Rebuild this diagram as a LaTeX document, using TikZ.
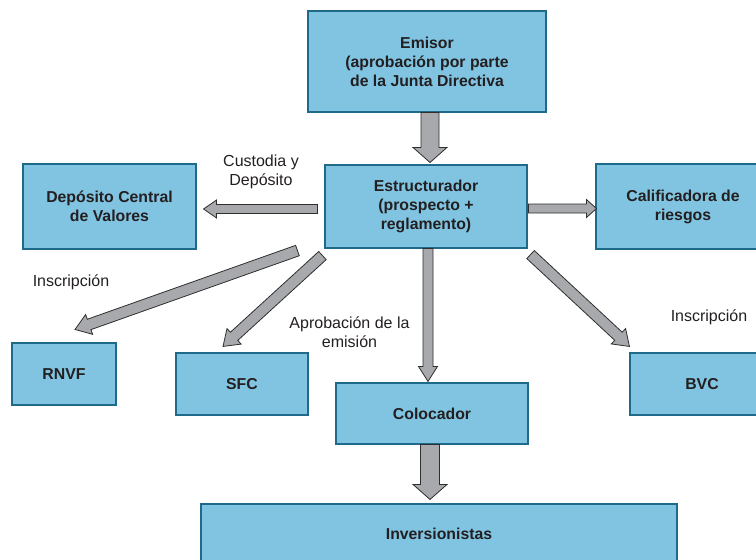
\documentclass[tikz,border=0pt]{standalone}
\usepackage{fontspec}
\setmainfont{Liberation Sans}
\usetikzlibrary{calc}
\definecolor{boxfill}{HTML}{80C4E2}
\definecolor{boxline}{HTML}{1F6A8A}
\definecolor{arrfill}{HTML}{A7A9AC}
\definecolor{arrline}{HTML}{2E2E2E}
\definecolor{txt}{HTML}{231F20}
\tikzset{
  box/.style={draw=boxline, fill=boxfill, line width=1.1pt, text=txt,
    font=\bfseries\fontsize{15.8}{19}\selectfont, align=center, inner sep=0pt},
  lbl/.style={text=txt, font=\fontsize{16}{19}\selectfont, align=center, inner sep=0pt},
  fat/.style={fill=arrfill, draw=arrline, line width=0.8pt, line join=miter}
}
% tail, tip, shaft half width, head half width, head length
\newcommand{\fatarrow}[5]{%
  \coordinate (hb) at ($(#2)!#5!(#1)$);
  \filldraw[fat] ($(#1)!#3!90:(#2)$) -- ($(hb)!#3!90:(#2)$) -- ($(hb)!#4!90:(#2)$)
    -- (#2) -- ($(hb)!#4!-90:(#2)$) -- ($(hb)!#3!-90:(#2)$) -- ($(#1)!#3!-90:(#2)$) -- cycle;}
\begin{document}
\begin{tikzpicture}[x=1pt,y=-1pt]
\useasboundingbox (0,0) rectangle (756,560);
\node[box, minimum width=238pt, minimum height=101pt] (emisor) at (427,61.5)
  {Emisor\\(aprobación por parte\\de la Junta Directiva};
\node[box, minimum width=202pt, minimum height=83pt] (estr) at (426,206.5)
  {Estructurador\\(prospecto +\\reglamento)};
\node[box, minimum width=173pt, minimum height=85pt] (dcv) at (109.5,206.5)
  {Depósito Central\\de Valores};
\node[box, minimum width=174pt, minimum height=85pt] (calif) at (683,206.5)
  {Calificadora de\\riesgos};
\node[box, minimum width=104pt, minimum height=62pt] (rnvf) at (64,374) {RNVF};
\node[box, minimum width=132pt, minimum height=62pt] (sfc) at (242,384) {SFC};
\node[box, minimum width=192pt, minimum height=61pt] (coloc) at (432,413.5) {Colocador};
\node[box, minimum width=144pt, minimum height=62pt] (bvc) at (702,384) {BVC};
\node[box, minimum width=476pt, minimum height=60pt] (inv) at (439,534) {Inversionistas};

\node[lbl] (l1) at (261,171.5) {Custodia y\\Depósito};
\node[lbl] (l2) at (71,282) {Inscripción};
\node[lbl] (l3) at (349.5,332.5) {Aprobación de la\\emisión};
\node[lbl] (l4) at (709,317) {Inscripción};

% arrow end points
\coordinate (a1s) at ($(emisor.south)+(3,0)$);
\coordinate (a1e) at ($(estr.north)+(4,-2)$);
\coordinate (a2s) at ($(estr.west)+(-7,2.5)$);
\coordinate (a2e) at ($(dcv.east)+(7,2.5)$);
\coordinate (a3s) at ($(estr.east)+(1,2)$);
\coordinate (a3e) at ($(calif.west)+(1,2)$);
\coordinate (a4s) at ($(estr.south)+(2,0)$);
\coordinate (a4e) at ($(coloc.north)+(-4,-1)$);
\coordinate (a5s) at ($(coloc.south)+(-2,0)$);
\coordinate (a5e) at ($(inv.north)+(-9,-4)$);
\coordinate (a6s) at ($(estr.south west)+(-27,2)$);
\coordinate (a6e) at ($(rnvf.north)+(11,-13)$);
\coordinate (a7s) at ($(estr.south west)+(-2,7)$);
\coordinate (a7e) at ($(sfc.north)+(-19,-6)$);
\coordinate (a8s) at ($(estr.south east)+(3,6)$);
\coordinate (a8e) at ($(bvc.north west)+(0,-6)$);

\fatarrow{a1s}{a1e}{9pt}{17pt}{15pt}
\fatarrow{a2s}{a2e}{4.5pt}{9pt}{13pt}
\fatarrow{a3s}{a3e}{4.5pt}{9pt}{10pt}
\fatarrow{a4s}{a4e}{5pt}{9.5pt}{15pt}
\fatarrow{a5s}{a5e}{9.5pt}{17pt}{15pt}
\fatarrow{a6s}{a6e}{5.5pt}{10.5pt}{15pt}
\fatarrow{a7s}{a7e}{5.5pt}{10.5pt}{15pt}
\fatarrow{a8s}{a8e}{5.5pt}{10.5pt}{15pt}
\end{tikzpicture}
\end{document}
